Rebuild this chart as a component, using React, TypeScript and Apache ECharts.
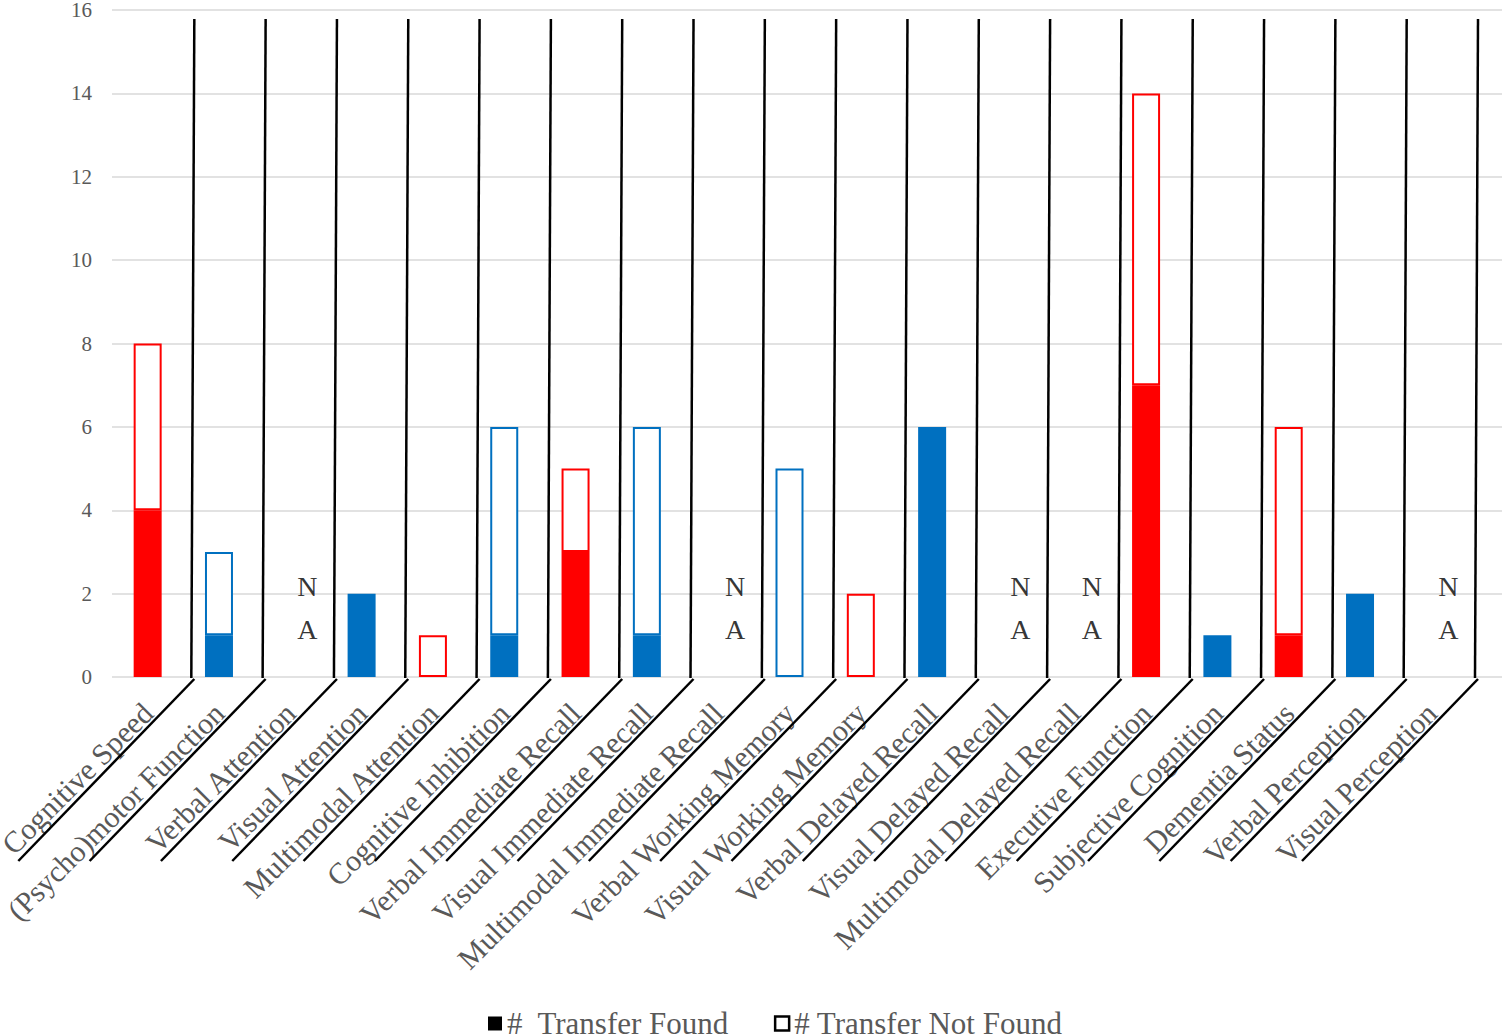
import React, { useEffect, useRef } from "react";
import * as echarts from "echarts";

const categories = [
  "Cognitive Speed",
  "(Psycho)motor Function",
  "Verbal Attention",
  "Visual Attention",
  "Multimodal Attention",
  "Cognitive Inhibition",
  "Verbal Immediate Recall",
  "Visual Immediate Recall",
  "Multimodal Immediate Recall",
  "Verbal Working Memory",
  "Visual Working Memory",
  "Verbal Delayed Recall",
  "Visual Delayed Recall",
  "Multimodal Delayed Recall",
  "Executive Function",
  "Subjective Cognition",
  "Dementia Status",
  "Verbal Perception",
  "Visual Perception",
];
// null = not applicable (NA)
const transferFound = [4, 1, null, 2, 0, 1, 3, 1, null, 0, 0, 6, null, null, 7, 1, 1, 2, null];
const transferNotFound = [4, 2, null, 0, 1, 5, 2, 5, null, 5, 2, 0, null, null, 7, 0, 5, 0, null];
const domainGroup = [
  "red", "blue", "blue", "blue", "red", "blue", "red", "blue", "blue", "blue",
  "red", "blue", "blue", "blue", "red", "blue", "red", "blue", "blue",
];
const seriesNames = ["#  Transfer Found", "# Transfer Not Found"];
const naText = "N\nA";
const yMin = 0;
const yMax = 16;
const yStep = 2;

const palette: Record<string, string> = { red: "#FF0000", blue: "#0070C0" };
const FONT = "'Liberation Serif', 'Times New Roman', serif";
const GRAY = "#595959";

export default function App() {
  const ref = useRef<HTMLDivElement>(null);
  useEffect(() => {
    if (!ref.current) return;
    const chart = echarts.init(ref.current, undefined, { renderer: "svg" });

    const foundData = transferFound.map((v, i) =>
      v == null ? "-" : { value: v, itemStyle: { color: palette[domainGroup[i]] } }
    );
    const notFoundData = transferNotFound.map((v, i) =>
      v == null || v === 0
        ? "-"
        : {
            value: v,
            itemStyle: { color: "#ffffff", borderColor: palette[domainGroup[i]], borderWidth: 2 },
          }
    );
    const naData = transferFound
      .map((v, i) => (v == null ? [i, 1.65] : null))
      .filter((d) => d !== null);

    const option: any = {
      animation: false,
      backgroundColor: "#ffffff",
      grid: [
        { left: 112, right: 35, top: 10, bottom: 359, outerBoundsMode: "none", containLabel: false },
        { left: 112, right: 0, top: 10, bottom: 359, outerBoundsMode: "none", containLabel: false },
      ],
      legend: {
        left: 488,
        top: 1008,
        padding: 0,
        itemWidth: 14,
        itemHeight: 14,
        itemGap: 45,
        selectedMode: false,
        textStyle: { fontSize: 31, lineHeight: 22, color: GRAY, fontFamily: FONT },
        data: [
          { name: seriesNames[0], icon: "rect", itemStyle: { color: "#000", borderWidth: 0 } },
          {
            name: seriesNames[1],
            icon: "rect",
            itemStyle: { color: "#fff", borderColor: "#000", borderWidth: 2.5 },
          },
        ],
      },
      xAxis: [
        {
          type: "category",
          gridIndex: 0,
          data: categories,
          axisLine: { show: false },
          axisTick: { show: false },
          axisLabel: {
            interval: 0,
            rotate: 45,
            margin: 31,
            fontSize: 30,
            color: GRAY,
            fontFamily: FONT,
          },
        },
        { type: "value", gridIndex: 1, min: 0, max: 1, show: false },
      ],
      yAxis: [
        {
          type: "value",
          gridIndex: 0,
          min: yMin,
          max: yMax,
          interval: yStep,
          axisLine: { show: false },
          axisTick: { show: false },
          splitLine: { show: false },
          axisLabel: { fontSize: 21, lineHeight: 17, color: GRAY, fontFamily: FONT, margin: 20 },
        },
        {
          type: "value",
          gridIndex: 1,
          min: yMin,
          max: yMax,
          interval: yStep,
          axisLine: { show: false },
          axisTick: { show: false },
          axisLabel: { show: false },
          splitLine: { show: true, lineStyle: { color: "#d9d9d9", width: 1.5 } },
        },
      ],
      series: [
        {
          name: seriesNames[0],
          type: "bar",
          xAxisIndex: 0,
          yAxisIndex: 0,
          stack: "total",
          barWidth: 28,
          itemStyle: { color: "#000" },
          data: foundData,
          z: 3,
        },
        {
          name: seriesNames[1],
          type: "bar",
          xAxisIndex: 0,
          yAxisIndex: 0,
          stack: "total",
          barWidth: 28,
          itemStyle: { color: "#fff", borderColor: "#000" },
          data: notFoundData,
          z: 3,
        },
        {
          type: "scatter",
          xAxisIndex: 0,
          yAxisIndex: 0,
          symbolSize: 0,
          silent: true,
          data: naData,
          label: {
            show: true,
            position: "inside",
            formatter: naText,
            offset: [17, 0],
            fontSize: 28,
            lineHeight: 43,
            color: "#000",
            fontFamily: FONT,
          },
          z: 4,
        },
        {
          type: "custom",
          xAxisIndex: 0,
          yAxisIndex: 0,
          clip: false,
          silent: true,
          encode: { x: 0, y: 1 },
          data: categories.map((_, i) => [i, 0]),
          renderItem: (params: any, api: any) => {
            const idx = api.value(0);
            const base = api.coord([idx, yMin]);
            const top = api.coord([idx, yMax]);
            const bw = api.size([1, 0])[0];
            const x = base[0] + bw / 2 + 8;
            const y0 = base[1];
            const style = { stroke: "#000", lineWidth: 2.5, fill: null };
            return {
              type: "group",
              children: [
                {
                  type: "line",
                  shape: { x1: x + 3, y1: top[1] + 9, x2: x, y2: y0 + 1 },
                  style,
                },
                {
                  type: "line",
                  shape: { x1: x + 3, y1: y0 + 2, x2: x + 3 - 176, y2: y0 + 184 },
                  style,
                },
              ],
            };
          },
          z: 5,
        },
      ],
    };
    chart.setOption(option);
    return () => chart.dispose();
  }, []);
  return (
    <div
      ref={ref}
      style={{ position: "fixed", left: 0, top: 0, width: 1502, height: 1036, background: "#fff" }}
    />
  );
}
